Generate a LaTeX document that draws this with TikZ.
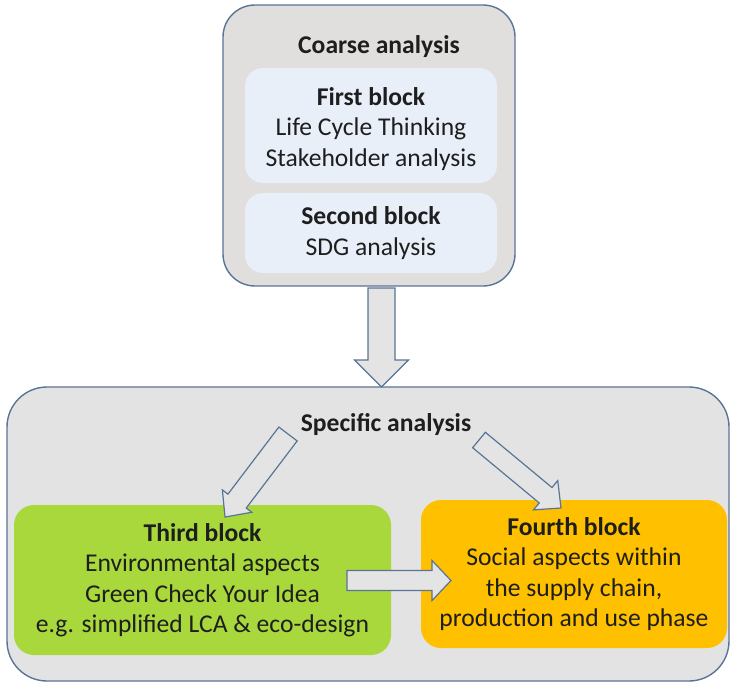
\documentclass[tikz,border=0pt]{standalone}
\usepackage{fontspec}
\setmainfont{Carlito}
\usetikzlibrary{calc}

\definecolor{frameblue}{HTML}{5A7497}
\definecolor{panelgray}{HTML}{E0DFDE}
\definecolor{panelgraylow}{HTML}{E3E3E3}
\definecolor{paleblue}{HTML}{E9EFF8}
\definecolor{leafgreen}{HTML}{A8D83B}
\definecolor{amber}{HTML}{FFC000}
\definecolor{arrowfill}{HTML}{E4E4E4}
\definecolor{ink}{HTML}{1E1E1E}

\tikzset{
  panel/.style={draw=frameblue, line width=1.4pt, rounded corners=#1, inner sep=0pt},
  blockbox/.style={rounded corners=#1, inner sep=0pt, align=center, text=ink,
    font=\fontsize{25.6}{30.5}\selectfont},
  blocktext/.style={inner sep=0pt, align=center, text=ink,
    font=\fontsize{25.6}{30.5}\selectfont},
  heading/.style={text=ink, font=\fontsize{25.6}{30.5}\selectfont\bfseries, inner sep=0pt},
  barrow/.style={draw=frameblue, line width=1.2pt, fill=arrowfill, line join=miter},
}

% block arrow: tail, tip, shaft half-width, head half-width, head length
\newcommand\blockarrow[5]{%
  \coordinate (ba-h) at ($(#2)!#5!(#1)$);
  \draw[barrow]
    ($(#1)!#3!90:(#2)$) -- ($(ba-h)!#3!90:(#2)$) -- ($(ba-h)!#4!90:(#2)$)
    -- (#2)
    -- ($(ba-h)!#4!-90:(#2)$) -- ($(ba-h)!#3!-90:(#2)$) -- ($(#1)!#3!-90:(#2)$)
    -- cycle;}

\begin{document}
\begin{tikzpicture}[x=1pt,y=-1pt]
\useasboundingbox (0,0) rectangle (730,683);

% coarse analysis panel
\node[panel=32pt, fill=panelgray, minimum width=292pt, minimum height=281pt]
  (coarse) at (369,145.5) {};
\node[heading] (coarsetitle) at (379,47) {Coarse analysis};
\node[blockbox=18pt, fill=paleblue, minimum width=252pt, minimum height=115pt]
  (first) at (371,125.5) {};
\node[blocktext] (firsttext) at (371,129)
  {\textbf{First block}\\Life Cycle Thinking\\Stakeholder analysis};
\node[blockbox=18pt, fill=paleblue, minimum width=252pt, minimum height=80pt]
  (second) at (371,233) {\textbf{Second block}\\SDG analysis};

% specific analysis panel
\node[panel=40pt, fill=panelgraylow, minimum width=722pt, minimum height=294pt]
  (specific) at (368,534) {};
\node[heading] (specifictitle) at (386,425) {Specific analysis};
\node[blockbox=20pt, fill=leafgreen, minimum width=377pt, minimum height=150pt]
  (third) at (202.5,580)
  {\textbf{Third block}\\Environmental aspects\\Green Check Your Idea\\e.g. simplified LCA \& eco-design};
\node[blockbox=20pt, fill=amber, minimum width=306pt, minimum height=148pt]
  (fourth) at (574,574)
  {\textbf{Fourth block}\\Social aspects within\\the supply chain,\\production and use phase};

% arrow end points
\coordinate (downtail) at (381.5,288);
\coordinate (downtip) at (381.5,387);
\coordinate (lefttail) at (288,434);
\coordinate (lefttip) at (225,517);
\coordinate (righttail) at (479,440);
\coordinate (righttip) at (561,508);
\coordinate (sidetail) at (347,580.5);
\coordinate (sidetip) at (451,580.5);

\blockarrow{downtail}{downtip}{13.5pt}{27pt}{27pt}
\blockarrow{lefttail}{lefttip}{11.5pt}{18.5pt}{20pt}
\blockarrow{righttail}{righttip}{10pt}{19pt}{20pt}
\blockarrow{sidetail}{sidetip}{10pt}{20pt}{19pt}
\end{tikzpicture}
\end{document}
